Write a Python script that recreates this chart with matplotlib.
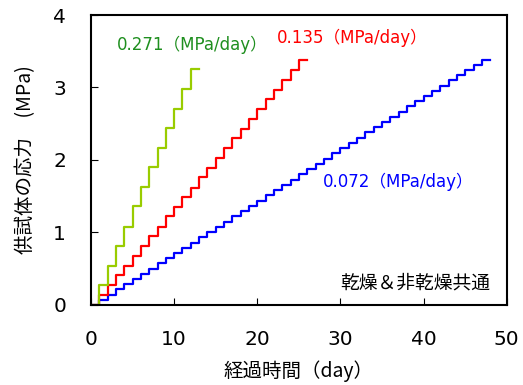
import numpy as np
import matplotlib.pyplot as plt

plt.rcParams['font.family'] = ['DejaVu Sans', 'Noto Sans CJK JP']
jp = ['Noto Sans CJK JP', 'DejaVu Sans']
lat = ['DejaVu Sans', 'Noto Sans CJK JP']

# stress (MPa) held from each day onward
green_days = [0, 1, 2, 3, 4, 5, 6, 7, 8, 9, 10, 11, 12, 13]
green_vals = [0, 0.27, 0.54, 0.81, 1.08, 1.36, 1.63, 1.90, 2.17, 2.44, 2.71, 2.98, 3.25, 3.25]

red_days = list(range(0, 27))
red_vals = [0, 0.14, 0.27, 0.41, 0.54, 0.68, 0.81, 0.95, 1.08, 1.22, 1.35, 1.49, 1.62,
            1.76, 1.89, 2.03, 2.16, 2.30, 2.43, 2.57, 2.70, 2.84, 2.97, 3.11, 3.24,
            3.38, 3.38]

blue_days = list(range(0, 49))
blue_vals = [0, 0.07, 0.14, 0.22, 0.29, 0.36, 0.43, 0.50, 0.58, 0.65, 0.72, 0.79, 0.86,
             0.94, 1.01, 1.08, 1.15, 1.22, 1.30, 1.37, 1.44, 1.51, 1.58, 1.66, 1.73,
             1.80, 1.87, 1.94, 2.02, 2.09, 2.16, 2.23, 2.30, 2.38, 2.45, 2.52, 2.59,
             2.66, 2.74, 2.81, 2.88, 2.95, 3.02, 3.10, 3.17, 3.24, 3.31, 3.38, 3.38]

fig = plt.figure(figsize=(5.23, 3.85), dpi=100)
ax = fig.add_axes([0.174, 0.208, 0.795, 0.753])

ax.plot(blue_days, blue_vals, drawstyle='steps-post', color='#0000ff', lw=1.6)
ax.plot(red_days, red_vals, drawstyle='steps-post', color='#ff0000', lw=1.6)
ax.plot(green_days, green_vals, drawstyle='steps-post', color='#99cc00', lw=1.6)

ax.text(3.1, 3.59, '0.271（MPa/day）', color='#1f8f1f', fontsize=12, va='center', family=lat)
ax.text(22.4, 3.68, '0.135（MPa/day）', color='#ff0000', fontsize=12, va='center', family=lat)
ax.text(27.9, 1.70, '0.072（MPa/day）', color='#0000ff', fontsize=12, va='center', family=lat)
ax.text(48, 0.30, '乾燥＆非乾燥共通', color='black', fontsize=13.5, ha='right', va='center', family=jp)

ax.set_xlim(0, 50)
ax.set_ylim(0, 4)
ax.set_xticks([0, 10, 20, 30, 40, 50])
ax.set_yticks([0, 1, 2, 3, 4])
ax.tick_params(axis='x', direction='in', length=5, pad=18, labelsize=14.5)
ax.tick_params(axis='y', direction='in', length=5, pad=18, labelsize=14.5)
for s in ax.spines.values():
    s.set_linewidth(1.5)

ax.set_xlabel('経過時間（day）', fontsize=14, family=jp, labelpad=8)
ax.set_ylabel('供試体の応力\u3000(MPa)', fontsize=14, family=jp, labelpad=12)

fig.savefig('out.png', dpi=100)
